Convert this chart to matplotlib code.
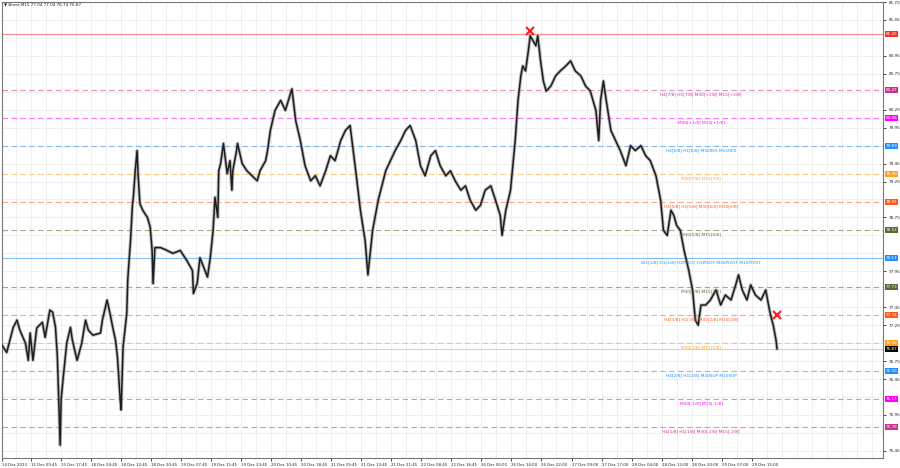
import matplotlib
matplotlib.use("Agg")
import matplotlib.pyplot as plt
from matplotlib.transforms import blended_transform_factory

# M15 bar index -> price
bars = [0, 5, 12, 16, 19, 25, 28, 30, 33, 37, 43, 46, 51, 54, 57, 59, 62, 63, 65, 69,
        73, 75, 80, 85, 89, 92, 97, 105, 107, 112, 115, 118, 121, 123, 126, 127, 129, 133, 134, 137,
        139, 140, 142, 144, 145, 147, 150, 155, 158, 160, 161, 163, 169, 176, 182, 190, 197, 203, 204, 208,
        211, 219, 222, 225, 227, 230, 231, 233, 236, 240, 243, 245, 246, 250, 251, 256, 261, 268, 272, 275,
        281, 283, 286, 291, 297, 302, 309, 313, 318, 323, 329, 334, 339, 345, 350, 355, 361, 366, 371, 377,
        382, 387, 390, 395, 401, 409, 414, 419, 425, 430, 435, 441, 446, 451, 457, 462, 467, 473, 478, 483,
        489, 494, 499, 505, 510, 515, 521, 526, 531, 533, 537, 542, 547, 550, 553, 555, 558, 561, 563, 566,
        569, 571, 574, 577, 580, 585, 590, 595, 601, 606, 611, 617, 622, 627, 633, 636, 638, 641, 644, 649,
        654, 659, 665, 670, 675, 681, 686, 691, 697, 702, 705, 709, 713, 716, 719, 723, 727, 732, 736, 739,
        742, 745, 750, 755, 761, 766, 771, 777, 782, 785, 789, 794, 798, 803, 809, 814, 817, 819, 822, 825,
        826]
close = [76.92, 76.82, 77.17, 77.27, 77.13, 76.95, 76.71, 77.09, 76.71, 77.16, 77.24, 77.03, 77.41, 77.38, 77.17, 76.76, 75.53, 76.16, 76.44, 76.95,
         77.17, 76.99, 76.71, 76.95, 77.27, 77.13, 77.06, 77.09, 77.27, 77.55, 77.37, 77.17, 76.99, 76.76, 76.16, 76.02, 76.89, 77.37, 77.83, 78.38,
         78.87, 78.98, 79.35, 79.63, 79.31, 78.89, 78.80, 78.70, 78.56, 78.24, 77.78, 78.28, 78.28, 78.24, 78.20, 78.24, 78.10, 77.96, 77.64, 77.78,
         78.14, 77.87, 78.14, 78.52, 78.98, 78.70, 79.35, 79.45, 79.73, 79.31, 79.49, 79.08, 79.35, 79.63, 79.73, 79.45, 79.35, 79.26, 79.21, 79.35,
         79.49, 79.63, 79.91, 80.19, 80.33, 80.19, 80.49, 80.05, 79.77, 79.42, 79.21, 79.28, 79.14, 79.35, 79.56, 79.49, 79.77, 79.91, 79.98, 79.35,
         78.80, 78.38, 77.90, 78.52, 78.94, 79.35, 79.49, 79.63, 79.77, 79.91, 79.98, 79.77, 79.42, 79.28, 79.56, 79.63, 79.42, 79.28, 79.35, 79.21,
         79.08, 79.14, 78.94, 78.80, 78.87, 79.08, 79.14, 78.94, 78.73, 78.45, 78.80, 79.08, 79.77, 80.33, 80.67, 80.81, 80.74, 81.02, 81.23, 81.16,
         81.09, 81.23, 80.88, 80.60, 80.46, 80.53, 80.67, 80.74, 80.81, 80.88, 80.74, 80.67, 80.53, 80.46, 80.19, 79.77, 80.33, 80.60, 80.33, 79.91,
         79.77, 79.63, 79.42, 79.70, 79.63, 79.70, 79.56, 79.49, 79.28, 78.94, 78.52, 78.45, 78.80, 78.73, 78.59, 78.52, 78.24, 77.96, 77.69, 77.27,
         77.20, 77.48, 77.48, 77.55, 77.69, 77.48, 77.62, 77.55, 77.76, 77.90, 77.69, 77.55, 77.76, 77.62, 77.55, 77.69, 77.48, 77.35, 77.20, 76.99,
         76.87]

# murrey math style levels
levels = [81.25, 80.47, 80.08, 79.69, 79.30, 78.91, 78.52, 78.13, 77.73, 77.34, 76.95, 76.56, 76.17, 75.78]
level_colors = ["#ff2a2a", "#c8338f", "#ff00ff", "#1e90ff", "#ffa020", "#ff5a1e", "#556b2f",
                "#1e90ff", "#556b2f", "#ff5a1e", "#ffa020", "#1e90ff", "#ff00ff", "#c8338f"]
level_texts = ["", "H4[7/8] H1[7/8] M30[+2/8] M15[+2/8]", "M30[+1/8] M15[+1/8]",
               "H4[6/8] H1[6/8] M30RES M15RES", "M30[7/8] M15[7/8]",
               "H4[5/8] H1[5/8] M30[6/8] M15[6/8]", "M30[5/8] M15[5/8]",
               "W1[1/8] D1[1/8] H4PIVOT H1PIVOT M30PIVOT M15PIVOT", "M30[3/8] M15[3/8]",
               "H4[3/8] H1[3/8] M30[2/8] M15[2/8]", "M30[1/8] M15[1/8]",
               "H4[2/8] H1[2/8] M30SUP M15SUP", "M30[-1/8] M15[-1/8]",
               "H4[1/8] H1[1/8] M30[-2/8] M15[-2/8]"]
solid_levels = [81.25, 78.13]
last_price = 76.87

# red cross markers
mark_bars = [563, 826]
mark_prices = [81.30, 77.34]

date_labels = ["14 Dec 2023", "15 Dec 09:45", "15 Dec 17:45", "18 Dec 04:45", "18 Dec 12:45",
               "18 Dec 20:45", "19 Dec 07:45", "19 Dec 15:45", "19 Dec 23:45", "20 Dec 10:45",
               "20 Dec 18:45", "21 Dec 05:45", "21 Dec 13:45", "21 Dec 21:45", "22 Dec 08:45",
               "22 Dec 16:45", "26 Dec 06:00", "26 Dec 14:00", "26 Dec 22:00", "27 Dec 09:00",
               "27 Dec 17:00", "28 Dec 04:00", "28 Dec 12:00", "28 Dec 20:00", "29 Dec 07:00",
               "29 Dec 15:00"]
date_pos = [0] + [31 + 32 * i for i in range(len(date_labels) - 1)]

price_ticks = [75.45 + 0.25 * i for i in range(26)]
all_boxes = levels + [last_price]
# tick labels hidden behind the coloured price boxes
shown_ticks = [p for p in price_ticks if min(abs(p - b) for b in all_boxes) > 0.085]

fig = plt.figure(figsize=(9, 4.68), dpi=100)
ax = fig.add_axes([2 / 900, 10 / 468, 881 / 900, 456 / 468])
ax.set_xlim(0, 939)
ax.set_ylim(75.35, 81.69)

# grid
for gx in range(15, 939, 16):
    ax.axvline(gx, color="#ececec", lw=0.6, zorder=0)
for p in price_ticks:
    ax.axhline(p, color="#ececec", lw=0.6, zorder=0)

# levels
for lv, col in zip(levels, level_colors):
    if lv in solid_levels:
        ax.axhline(lv, color=col, lw=0.8, alpha=0.55, zorder=1)
    else:
        ax.axhline(lv, color=col, lw=0.8, alpha=0.55, ls=(0, (5, 3)), zorder=1)
ax.axhline(last_price, color="#c8c8c8", lw=0.6, zorder=1)

ax.plot(bars, close, color="#8a8a8a", lw=2.4, alpha=0.6, zorder=2)
ax.plot(bars, close, color="#1e1e1e", lw=1.1, zorder=3)
ax.plot(mark_bars, mark_prices, "x", color="#ff2020", ms=6, mew=1.6, zorder=4)

for lv, col, txt in zip(levels, level_colors, level_texts):
    if txt:
        ax.text(745, lv - 0.025, txt, color=col, fontsize=3.1, ha="center", va="top", zorder=5)

# right axis
ax.yaxis.tick_right()
ax.set_yticks(shown_ticks)
ax.set_yticklabels(["%.2f" % p for p in shown_ticks], fontsize=3.0, color="#222222")
ax.tick_params(axis="y", length=2, width=0.5, pad=2)
ax.set_xticks(date_pos)
ax.set_xticklabels(date_labels, fontsize=2.8, ha="left", color="#222222")
ax.tick_params(axis="x", length=2, width=0.5, pad=1.5)
for s in ax.spines.values():
    s.set_linewidth(0.8)
    s.set_color("#777777")

trans = blended_transform_factory(ax.transAxes, ax.transData)
for lv, col in zip(all_boxes, level_colors + ["#000000"]):
    ax.text(1.003, lv, "%.2f" % lv, transform=trans, fontsize=3.0, color="white",
            ha="left", va="center", zorder=6, clip_on=False,
            bbox=dict(boxstyle="square,pad=0.25", fc=col, ec="none"))

fig.text(4 / 900, 1 - 5 / 468, "\u25bc Brent,M15 77.04 77.04 76.74 76.87",
         fontsize=3.0, va="center", ha="left", color="#222222")

fig.savefig("out.png", dpi=100)
